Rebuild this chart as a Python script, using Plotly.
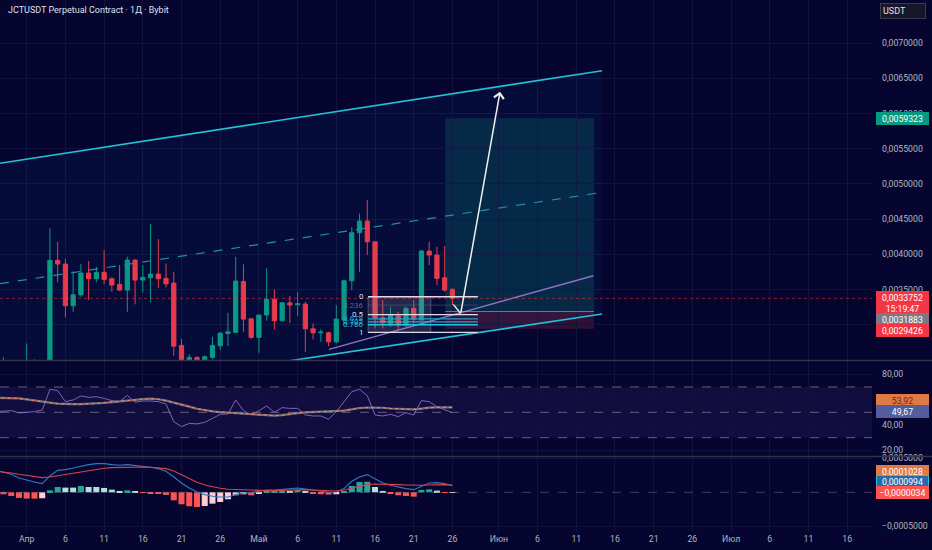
import pandas as pd
import plotly.graph_objects as go
from plotly.subplots import make_subplots

# daily candles, 2025-03-28 .. 2025-05-26
dates = pd.date_range("2025-03-28", "2025-05-26", freq="D")

opens = [0.00238, 0.00236, 0.00241, 0.00235,
         0.00232, 0.00238, 0.00236, 0.00240, 0.003914, 0.003862, 0.00327, 0.003426, 0.003734, 0.003654,
         0.003744, 0.003654, 0.003574, 0.003493, 0.003919, 0.003635, 0.003668, 0.00372, 0.003659, 0.003592,
         0.002707, 0.00246, 0.002537, 0.00249, 0.002537, 0.002703, 0.002877, 0.002892, 0.003616, 0.003085,
         0.002821, 0.003138, 0.003361, 0.003057, 0.003312, 0.003284, 0.003294, 0.002943, 0.002886, 0.002886,
         0.002758, 0.003067, 0.003625, 0.004307, 0.004473, 0.004179, 0.003099, 0.00302, 0.003124, 0.002996,
         0.003233, 0.003067, 0.004047, 0.00399, 0.003668, 0.003503]
highs = [0.00245, 0.00254, 0.00248, 0.00246,
         0.002736, 0.00251, 0.00248, 0.004369, 0.004179, 0.003938, 0.003759, 0.003862, 0.003905, 0.003824,
         0.004061, 0.003673, 0.003848, 0.003966, 0.00393, 0.003848, 0.00443, 0.004217, 0.003872, 0.003754,
         0.002797, 0.002584, 0.00255, 0.00257, 0.00283, 0.00289, 0.00317, 0.003966, 0.003858, 0.003085,
         0.003138, 0.003801, 0.003503, 0.00332, 0.003408, 0.003461, 0.003327, 0.00302, 0.002935, 0.002901,
         0.00328, 0.00364, 0.004384, 0.004582, 0.004771, 0.004179, 0.003351, 0.003251, 0.003185, 0.00326,
         0.003351, 0.00406, 0.004179, 0.004108, 0.004118, 0.003517]
lows = [0.00230, 0.00232, 0.00233, 0.00228,
        0.00225, 0.00231, 0.00229, 0.00236, 0.003602, 0.003105, 0.003185, 0.003398, 0.003351, 0.003602,
        0.003574, 0.003469, 0.003479, 0.003185, 0.00329, 0.00346, 0.003318, 0.003526, 0.003531, 0.00256,
        0.00238, 0.00240, 0.00241, 0.00242, 0.002508, 0.00264, 0.002697, 0.002892, 0.002901, 0.002801,
        0.002602, 0.003057, 0.002935, 0.003055, 0.003028, 0.003124, 0.002616, 0.002793, 0.002758, 0.002697,
        0.002736, 0.00306, 0.003493, 0.003753, 0.00399, 0.002949, 0.002949, 0.002972, 0.002925, 0.00297,
        0.00302, 0.003067, 0.003848, 0.003564, 0.003469, 0.00328]
closes = [0.00236, 0.00241, 0.00235, 0.00232,
          0.00238, 0.00236, 0.00240, 0.003914, 0.003862, 0.00327, 0.003426, 0.003734, 0.003654, 0.003744,
          0.003645, 0.003564, 0.003493, 0.003919, 0.003635, 0.003673, 0.00372, 0.003654, 0.003582, 0.002697,
          0.00246, 0.002537, 0.00249, 0.002545, 0.002707, 0.002882, 0.0029, 0.003621, 0.003081, 0.002821,
          0.003138, 0.003361, 0.003057, 0.003312, 0.00328, 0.003298, 0.002943, 0.002886, 0.002896, 0.002758,
          0.003081, 0.003625, 0.004307, 0.004473, 0.004179, 0.003091, 0.003028, 0.003138, 0.002996, 0.003233,
          0.003077, 0.004047, 0.00399, 0.003659, 0.003493, 0.0033752]

rsi = [50.5, 51.0, 51.3, 49.5,
       49.8, 50.5, 51.8, 68.1, 67.1, 58.4, 59.7, 62.9, 61.8, 62.3,
       61.0, 59.2, 58.4, 63.4, 57.9, 58.9, 58.9, 58.4, 56.5, 42.6,
       38.7, 41.3, 40.8, 42.1, 45.2, 48.4, 48.7, 59.7, 51.3, 47.9,
       51.3, 55.0, 50.0, 53.7, 53.1, 53.1, 47.9, 47.1, 47.1, 44.5,
       50.5, 58.4, 66.3, 68.1, 63.1, 47.9, 47.1, 48.4, 46.6, 49.7,
       47.9, 59.2, 58.4, 54.4, 51.8, 49.67]
rsi_ma = [61.5, 61.5, 61.3, 61.0,
          60.2, 59.2, 58.4, 57.6, 56.8, 56.5, 56.5, 56.5, 56.7, 57.0,
          57.4, 58.0, 58.7, 59.3, 59.8, 60.4, 60.8, 60.3, 59.2, 57.8,
          56.3, 54.5, 52.8, 51.6, 50.8, 50.2, 49.8, 49.4, 49.0, 48.6,
          48.2, 47.8, 47.3, 47.8, 48.8, 49.4, 50.0, 50.3, 50.5, 50.6,
          50.8, 51.3, 52.3, 53.4, 53.7, 53.9, 53.6, 53.0, 52.7, 52.5,
          52.3, 52.9, 53.7, 53.9, 54.1, 53.92]

# MACD values in units of 1e-5
macd_e5 = [32.3, 29.9, 26.5, 21.1,
           17.6, 15.2, 12.7, 24.0, 32.3, 33.3, 35.8, 38.7, 40.7, 42.1,
           42.1, 40.7, 39.7, 40.7, 39.7, 38.2, 36.8, 34.8, 30.9, 22.5,
           13.7, 6.4, 0.5, -3.4, -5.9, -6.9, -6.9, -3.4, -1.0, -0.5,
           1.5, 3.4, 3.4, 4.4, 4.9, 6.4, 4.9, 2.9, 1.5, 0.0,
           0.5, 5.4, 16.2, 22.5, 26.0, 20.1, 13.7, 10.3, 7.4, 5.4,
           3.9, 9.3, 13.7, 14.2, 12.7, 9.94]
signal_e5 = [30.9, 29.9, 28.4, 26.5,
             25.0, 23.5, 21.6, 22.5, 24.0, 26.0, 27.9, 29.9, 31.9, 33.8,
             35.3, 36.3, 36.8, 37.2, 37.2, 37.2, 36.8, 36.3, 34.8, 31.4,
             26.0, 20.1, 14.7, 10.8, 7.8, 5.9, 4.4, 3.9, 2.9, 2.5,
             2.5, 2.5, 2.5, 2.9, 3.4, 3.9, 3.9, 3.4, 2.9, 2.5,
             2.0, 3.4, 5.9, 8.8, 11.3, 12.3, 12.3, 11.8, 11.3, 10.8,
             10.3, 10.3, 10.8, 11.3, 11.3, 10.28]
hist_e5 = [-1.5, -2.9, -5.4, -8.3,
           -9.3, -9.3, -8.8, 2.9, 7.8, 6.9, 6.9, 9.3, 7.8, 7.8,
           6.4, 3.9, 2.0, 2.9, 1.5, -1.0, -1.5, -2.5, -3.9, -11.8,
           -17.6, -20.6, -21.6, -20.1, -16.7, -14.2, -10.3, -4.4, -2.9, -4.4,
           -2.5, 1.5, 2.0, 2.9, 2.0, 3.4, 1.0, -1.5, -2.9, -3.4,
           -2.9, 1.5, 9.3, 15.2, 15.5, 7.8, 2.0, -2.0, -4.4, -5.4,
           -6.4, 3.4, 4.4, 2.5, -0.5, -0.34]

# drawings
channel_x = ["2025-03-28 13:12", "2025-06-14 08:00"]
channel_top = [0.005294, 0.006608]
channel_bottom = [0.001874, 0.003152]
support_x = ["2025-05-10 01:30", "2025-06-13 05:00"]
support_y = [0.00265, 0.003696]
arrow_x = ["2025-05-26 03:00", "2025-05-27 01:40", "2025-06-01 03:36"]
arrow_y = [0.00329, 0.00316, 0.00631]
fib_x = ["2025-05-15 02:24", "2025-05-29 07:00"]
fib_box_end = "2025-05-23 05:00"
fib_top, fib_bottom = 0.003398, 0.002892
fib_levels = [0, 0.236, 0.5, 0.618, 0.705, 0.786, 1]
fib_names = ["0", "0.236", "0.5", "0.618", "0.705", "0.786", "1"]
long_x = ["2025-05-25 02:00", "2025-06-13 07:00"]
entry_price, target_price, stop_price = 0.0031883, 0.0059323, 0.0029426
last_price = 0.0033752

price_ticks = [0.0030, 0.0035, 0.0040, 0.0045, 0.0050, 0.0055, 0.0060, 0.0065, 0.0070]
rsi_ticks = [20, 40, 60, 80]
macd_ticks = [-0.0005, 0.0005]
x_tick_vals = ["2025-04-01", "2025-04-06", "2025-04-11", "2025-04-16", "2025-04-21", "2025-04-26",
               "2025-05-01", "2025-05-06", "2025-05-11", "2025-05-16", "2025-05-21", "2025-05-26",
               "2025-06-01", "2025-06-06", "2025-06-11", "2025-06-16", "2025-06-21", "2025-06-26",
               "2025-07-01", "2025-07-06", "2025-07-11", "2025-07-16"]
x_tick_text = ["Апр", "6", "11", "16", "21", "26", "Май", "6", "11", "16", "21", "26",
               "Июн", "6", "11", "16", "21", "26", "Июл", "6", "11", "16"]
x_range = ["2025-03-28 13:12", "2025-07-19 05:00"]

BG = "#050530"
GRID = "#12123f"
TXT = "#b2b5be"
UP = "#089981"
DOWN = "#f23645"
FONT = "Roboto"
PLOT_RIGHT = 872 / 932

macd = [v * 1e-5 for v in macd_e5]
signal = [v * 1e-5 for v in signal_e5]
hist = [v * 1e-5 for v in hist_e5]

hist_colors = []
for i, h in enumerate(hist):
    prev = hist[i - 1] if i else h
    if h >= 0:
        hist_colors.append("#26a69a" if h > prev else "#b2dfdb")
    else:
        hist_colors.append("#ffcdd2" if h > prev else "#ff5252")

fig = make_subplots(rows=3, cols=1, shared_xaxes=True, vertical_spacing=0)

# channel
channel_mid = [(a + b) / 2 for a, b in zip(channel_top, channel_bottom)]
fig.add_trace(go.Scatter(x=channel_x, y=channel_bottom, mode="lines",
                         line=dict(color="#22c3d6", width=1.6)), row=1, col=1)
fig.add_trace(go.Scatter(x=channel_x, y=channel_top, mode="lines", fill="tonexty",
                         fillcolor="rgba(33,150,243,0.05)",
                         line=dict(color="#22c3d6", width=1.6)), row=1, col=1)
fig.add_trace(go.Scatter(x=channel_x, y=channel_mid, mode="lines",
                         line=dict(color="#1f8fab", width=1.2, dash="dash")), row=1, col=1)
fig.add_trace(go.Scatter(x=support_x, y=support_y, mode="lines",
                         line=dict(color="#8e72c9", width=1.4)), row=1, col=1)

fig.add_trace(go.Candlestick(
    x=dates, open=opens, high=highs, low=lows, close=closes,
    increasing=dict(line=dict(color=UP, width=1), fillcolor=UP),
    decreasing=dict(line=dict(color=DOWN, width=1), fillcolor=DOWN),
    whiskerwidth=0), row=1, col=1)

fig.add_trace(go.Scatter(x=arrow_x[:2], y=arrow_y[:2], mode="lines",
                         line=dict(color="#f0f0f0", width=1.5)), row=1, col=1)

# RSI
fig.add_trace(go.Scatter(x=dates, y=rsi, mode="lines",
                         line=dict(color="#7e62c0", width=1)), row=2, col=1)
fig.add_trace(go.Scatter(x=dates, y=rsi_ma, mode="lines",
                         line=dict(color="#707080", width=2.2)), row=2, col=1)
fig.add_trace(go.Scatter(x=dates, y=rsi_ma, mode="lines",
                         line=dict(color="#ff7a45", width=1.2, dash="dot")), row=2, col=1)

# MACD
fig.add_trace(go.Bar(x=dates, y=hist, marker=dict(color=hist_colors, line=dict(width=0)),
                     width=0.78 * 86400000), row=3, col=1)
fig.add_trace(go.Scatter(x=dates, y=macd, mode="lines",
                         line=dict(color="#2f79c0", width=1.1)), row=3, col=1)
fig.add_trace(go.Scatter(x=dates, y=signal, mode="lines",
                         line=dict(color="#d8434a", width=1.1)), row=3, col=1)

shapes = []
# long position
shapes.append(dict(type="rect", xref="x", yref="y", x0=long_x[0], x1=long_x[1],
                   y0=entry_price, y1=target_price, fillcolor="rgba(8,153,129,0.2)",
                   line=dict(width=0), layer="below"))
shapes.append(dict(type="rect", xref="x", yref="y", x0=long_x[0], x1=long_x[1],
                   y0=stop_price, y1=entry_price, fillcolor="rgba(242,54,69,0.2)",
                   line=dict(width=0), layer="below"))
shapes.append(dict(type="line", xref="x", yref="y", x0=long_x[0], x1=long_x[1],
                   y0=entry_price, y1=entry_price, line=dict(color="rgba(190,190,200,0.55)", width=1)))
# fib retracement
fib_colors = ["#dcdce4", "rgba(120,123,134,0.3)", "#dcdce4", "#1fa0c8", "#2aa8d8", "#26c6da", "#dcdce4"]
fib_label_colors = ["#dcdce4", "rgba(120,123,134,0.8)", "#dcdce4", "#1fa0c8", "#2aa8d8", "#26c6da", "#dcdce4"]
shapes.append(dict(type="rect", xref="x", yref="y", x0=fib_x[0], x1=fib_box_end,
                   y0=fib_bottom, y1=fib_top, fillcolor="rgba(150,150,170,0.2)",
                   line=dict(color="rgba(200,200,210,0.3)", width=1), layer="above"))
fib_prices = [fib_top - lv * (fib_top - fib_bottom) for lv in fib_levels]
for p, c in zip(fib_prices, fib_colors):
    shapes.append(dict(type="line", xref="x", yref="y", x0=fib_x[0], x1=fib_x[1],
                       y0=p, y1=p, line=dict(color=c, width=1.3)))
# last price dotted line
shapes.append(dict(type="line", xref="x domain", yref="y", x0=0, x1=1, y0=last_price, y1=last_price,
                   line=dict(color="rgba(242,54,69,0.55)", width=1, dash="dot")))
# RSI bands
shapes.append(dict(type="rect", xref="x2 domain", yref="y2", x0=0, x1=1, y0=30, y1=70,
                   fillcolor="rgba(126,87,194,0.1)", line=dict(width=0), layer="below"))
for lv in [70, 50, 30]:
    shapes.append(dict(type="line", xref="x2 domain", yref="y2", x0=0, x1=1, y0=lv, y1=lv,
                       line=dict(color="rgba(140,143,160,0.65)", width=1, dash="dash")))
shapes.append(dict(type="line", xref="x3 domain", yref="y3", x0=0, x1=1, y0=0, y1=0,
                   line=dict(color="rgba(120,123,134,0.5)", width=1, dash="dash")))
# pane separators
for yp in [(532 - 360.5) / 532, (532 - 456.5) / 532]:
    shapes.append(dict(type="line", xref="paper", yref="paper", x0=0, x1=1, y0=yp, y1=yp,
                       line=dict(color="#30334a", width=1.5)))

annotations = []
annotations.append(dict(xref="paper", yref="paper", x=6 / 932, y=(532 - 10) / 532,
                        xanchor="left", yanchor="middle", showarrow=False,
                        text="JCTUSDT Perpetual Contract · 1Д · Bybit",
                        font=dict(family=FONT, size=9, color="#dfe1e8")))
annotations.append(dict(xref="paper", yref="paper", x=880 / 932, y=(532 - 10.5) / 532,
                        xanchor="left", yanchor="middle", showarrow=False, text="USDT",
                        width=40, align="left", bgcolor="#17172c", bordercolor="#3a3a52",
                        borderwidth=1, borderpad=2,
                        font=dict(family=FONT, size=9, color="#e0e0e8")))
# arrow head
annotations.append(dict(xref="x", yref="y", axref="x", ayref="y",
                        x=arrow_x[2], y=arrow_y[2], ax=arrow_x[1], ay=arrow_y[1],
                        text="", showarrow=True, arrowhead=4, arrowsize=1.3,
                        arrowwidth=1.5, arrowcolor="#f0f0f0", standoff=0))
for p, name, c in zip(fib_prices, fib_names, fib_label_colors):
    annotations.append(dict(xref="x", yref="y", x=fib_x[0], y=p, xanchor="right",
                            yanchor="middle", xshift=-2, showarrow=False, text=name,
                            font=dict(family=FONT, size=8, color=c)))


def axis_label(text, yref, y, bg, shift, fg="#ffffff", border=None):
    return dict(xref="paper", yref=yref, x=876 / 932, y=y, xanchor="left", yanchor="middle",
                yshift=shift, showarrow=False, text=text, width=50, align="center",
                bgcolor=bg, bordercolor=border or bg, borderwidth=1, borderpad=0.5,
                font=dict(family=FONT, size=8.7, color=fg))


annotations.append(axis_label("0,0059323", "y", target_price, "#089981", 0))
annotations.append(axis_label("0,0033752<br>15:19:47", "y", last_price, "#f23645", -5))
annotations.append(axis_label("0,0031883", "y", entry_price, "#787b86", -8))
annotations.append(axis_label("0,0029426", "y", stop_price, "#f23645", -2))
annotations.append(axis_label("53,92", "y2", rsi_ma[-1], "#e07a45", 7, fg="#7a1a22"))
annotations.append(axis_label("49,67", "y2", rsi[-1], "#525c9e", 1))
annotations.append(axis_label("0,0001028", "y3", signal[-1], "#e07a45", 14))
annotations.append(axis_label("0,0000994", "y3", macd[-1], "#2a6aa8", 4, border="#26c6da"))
annotations.append(axis_label("−0,0000034", "y3", hist[-1], "#ff5252", 0))

fig.update_layout(
    width=932, height=550, margin=dict(l=0, r=0, t=0, b=18),
    paper_bgcolor=BG, plot_bgcolor=BG, showlegend=False, hovermode=False,
    separators=", ", boxgap=0.22, bargap=0.22,
    font=dict(family=FONT, size=8.7, color=TXT),
    shapes=shapes, annotations=annotations,
)

for name in ["xaxis", "xaxis2", "xaxis3"]:
    fig.layout[name].update(domain=[0, PLOT_RIGHT], range=x_range, type="date",
                            tickmode="array", tickvals=x_tick_vals, ticktext=x_tick_text,
                            showgrid=True, gridcolor=GRID, gridwidth=1, zeroline=False,
                            showline=False, ticks="", showticklabels=(name == "xaxis3"),
                            tickfont=dict(family=FONT, size=8.7, color=TXT))
fig.layout.xaxis.rangeslider.visible = False

common_y = dict(side="right", showgrid=True, gridcolor=GRID, zeroline=False, showline=False,
                ticks="", tickmode="array", ticklabelstandoff=9, automargin=False,
                tickfont=dict(family=FONT, size=8.7, color=TXT))
fig.layout.yaxis.update(domain=[(532 - 360) / 532, 1], range=[0.0025, 0.007612],
                        tickvals=price_ticks, tickformat=".7f", **common_y)
fig.layout.yaxis2.update(domain=[(532 - 456) / 532, (532 - 361) / 532], range=[15.5, 90.5],
                         tickvals=rsi_ticks, tickformat=".2f", **common_y)
fig.layout.yaxis3.update(domain=[0, (532 - 457) / 532], range=[-0.000584, 0.000519],
                         tickvals=macd_ticks, tickformat=".7f", **common_y)

# drop the default page margin so the chart fills the window exactly
fig.write_html("out.html", config={"displayModeBar": False},
               post_script="document.body.style.margin='0';document.body.style.background='%s';" % BG)
